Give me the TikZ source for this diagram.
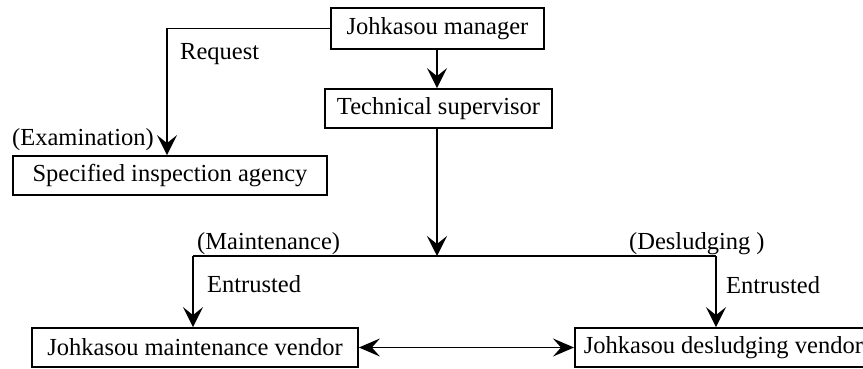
\documentclass[tikz,border=0pt]{standalone}
\usepackage{fontspec}
\setmainfont{Liberation Serif}
\usetikzlibrary{arrows.meta}
\begin{document}
\begin{tikzpicture}[x=1pt,y=-1pt,
  box/.style={draw=black, line width=1.8pt, inner sep=0pt, align=center,
    font=\fontsize{24.5}{29}\selectfont},
  lbl/.style={inner sep=0pt, anchor=base west, font=\fontsize{24.5}{29}\selectfont},
  conn/.style={line width=1.8pt},
  arr/.style={conn, -{Stealth[length=20pt,width=20pt,inset=8pt]}},
  darr/.style={conn, {Stealth[length=21pt,width=18pt,inset=8pt]}-{Stealth[length=21pt,width=18pt,inset=8pt]}}]
\useasboundingbox (0,0) rectangle (863,369);
\clip (0,0) rectangle (863,369);
\fill[white] (0,0) rectangle (863,369);
% boxes
\node[box, minimum width=213pt, minimum height=41pt] (manager) at (437.5,28.5) {Johkasou manager};
\node[box, minimum width=227pt, minimum height=39pt] (super) at (438.5,108.5) {Technical supervisor};
\node[box, minimum width=314pt, minimum height=39pt] (agency) at (170,175.5) {Specified inspection agency};
\node[box, minimum width=326pt, minimum height=39pt] (maint) at (195,347.5) {Johkasou maintenance vendor};
\node[box, minimum height=39pt, inner xsep=9pt, anchor=west] (desl) at (574,347.5) {Johkasou desludging vendor};
% coordinates
\coordinate (req) at (167,175.5);
\coordinate (jc) at (437,256);
\coordinate (jl) at (193,256);
\coordinate (jr) at (716,256);
% connectors
\draw[arr] (manager.south -| 437,0) -- (437,0 |- super.north);
\draw[arr] (manager.west) -| (req |- agency.north);
\draw[arr] (super.south -| jc) -- (jc);
\draw[conn] (jl) -- (jr);
\draw[arr] (jl) -- (jl |- maint.north);
\draw[arr] (jr) -- (jr |- desl.north);
\draw[darr] (maint.east) -- (desl.west);
% labels
\node[lbl] (lreq) at (180,60) {Request};
\node[lbl] (lexam) at (12,146) {(Examination)};
\node[lbl] (lmaint) at (197,249) {(Maintenance)};
\node[lbl] (lent1) at (207,292) {Entrusted};
\node[lbl] (ldesl) at (629,249) {(Desludging )};
\node[lbl] (lent2) at (726,293) {Entrusted};
\end{tikzpicture}
\end{document}
